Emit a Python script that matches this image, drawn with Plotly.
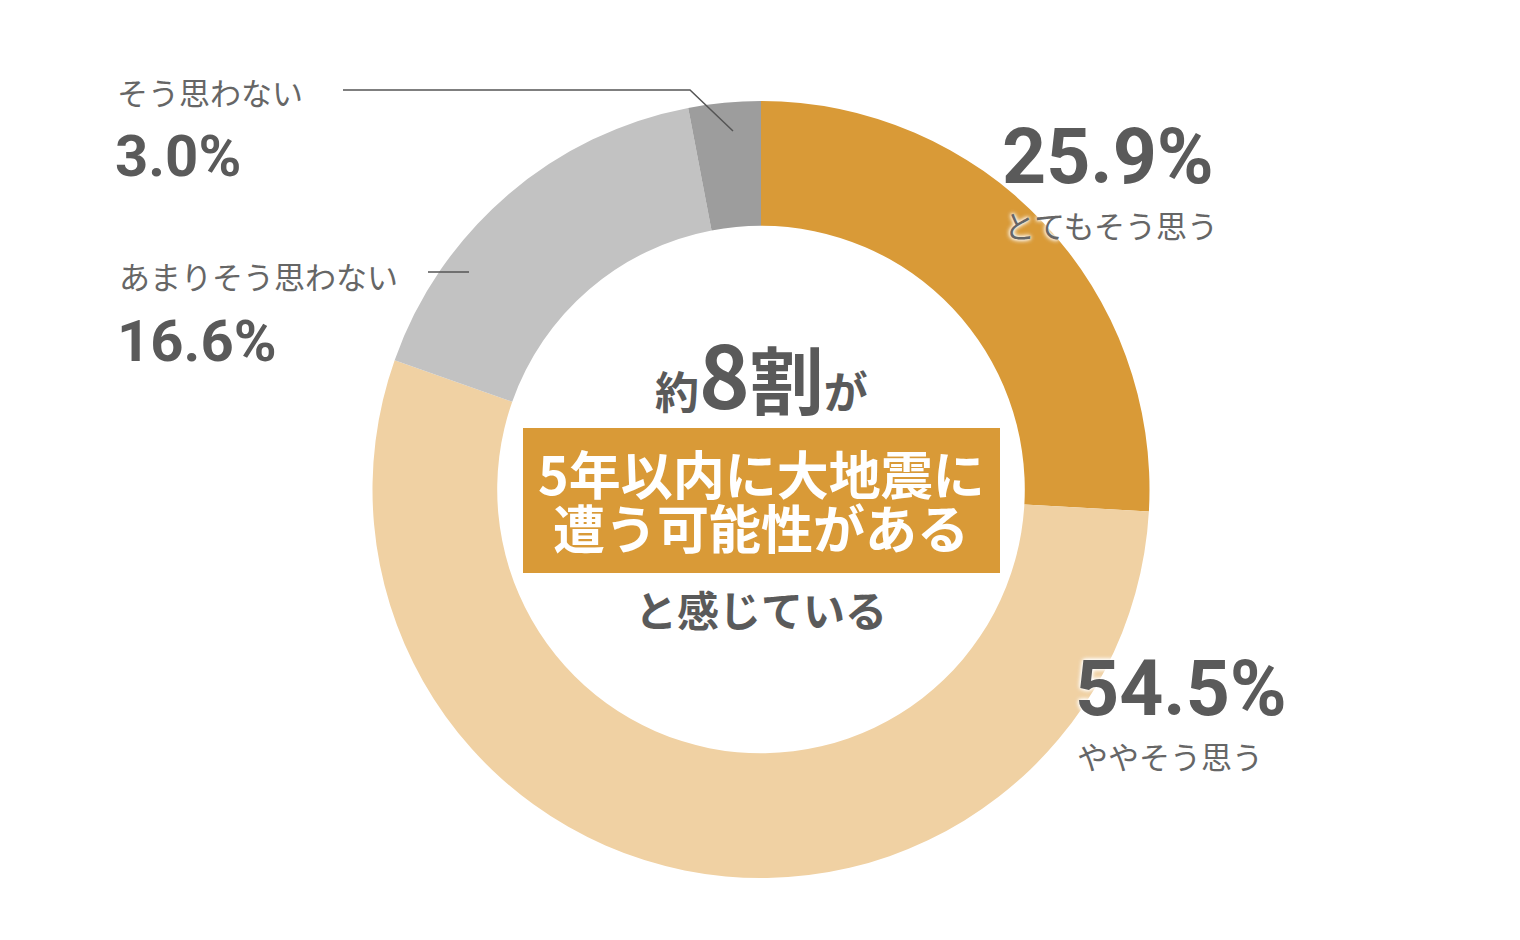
import plotly.graph_objects as go

# ---- data ----
categories = ["とてもそう思う", "ややそう思う", "あまりそう思わない", "そう思わない"]
values = [25.9, 54.5, 16.6, 3.0]
value_labels = ["25.9%", "54.5%", "16.6%", "3.0%"]
colors = ["#D99A37", "#F0D1A3", "#C2C2C2", "#9D9D9D"]

W, H = 1520, 940
ML, MR, MT, MB = 372, 370, 101, 62
PW, PH = W - ML - MR, H - MT - MB


def px(x):
    return (x - ML) / PW


def py(y):
    return 1 - (y - MT) / PH


fig = go.Figure(go.Pie(
    labels=categories, values=values, hole=0.679, sort=False,
    direction="clockwise", rotation=0, textinfo="none", hoverinfo="label+percent",
    marker=dict(colors=colors, line=dict(width=0)), showlegend=False,
))

JP = "Noto Sans CJK JP"
NUM = "Roboto"
DARK = "#5a5a5a"
LABEL = "#666666"
GLOW = "0px 0px 5px #ffffff, 0px 0px 5px #ffffff, 0px 0px 3px #ffffff"

ann = []


def add(text, x, y, size, family, color, weight="normal", xanchor="left", shadow=None):
    f = dict(size=size, family=family, color=color, weight=weight)
    if shadow:
        f["shadow"] = shadow
    ann.append(dict(text=text, x=px(x), y=py(y), xref="paper", yref="paper",
                    xanchor=xanchor, yanchor="middle", showarrow=False, font=f))


# slice labels
add(value_labels[0], 1000, 157, 77, NUM, DARK, "bold", shadow=GLOW)
add(categories[0], 1002, 224, 31, JP, LABEL, shadow=GLOW)
add(value_labels[1], 1073, 689, 77, NUM, DARK, "bold", shadow=GLOW)
add(categories[1], 1075, 755, 31, JP, LABEL, shadow=GLOW)
add(categories[3], 115, 91, 31, JP, LABEL)
add(value_labels[3], 113, 156, 58, NUM, DARK, "bold")
add(categories[2], 117, 275, 31, JP, LABEL)
add(value_labels[2], 115, 341, 58, NUM, DARK, "bold")

# center text
add('約<span style="font-size:86px">8</span><span style="font-size:74px">割</span>が',
    761, 371, 44, JP, DARK, "bold", xanchor="center")
add("5年以内に大地震に", 761, 472, 52, JP, "#ffffff", "bold", xanchor="center")
add("遭う可能性がある", 761, 526, 52, JP, "#ffffff", "bold", xanchor="center")
add("と感じている", 761, 608, 42, JP, DARK, "bold", xanchor="center")

shapes = [
    dict(type="rect", xref="paper", yref="paper", x0=px(523), x1=px(1000),
         y0=py(573), y1=py(428), fillcolor="#D99A37", line=dict(width=0), layer="below"),
    dict(type="path", xref="paper", yref="paper",
         path=f"M {px(343)},{py(90)} L {px(690)},{py(90)} L {px(733)},{py(131)}",
         line=dict(color="#555555", width=1.5)),
    dict(type="line", xref="paper", yref="paper", x0=px(428), x1=px(469),
         y0=py(272), y1=py(272), line=dict(color="#555555", width=1.5)),
]

fig.update_layout(
    width=W, height=H, margin=dict(l=ML, r=MR, t=MT, b=MB),
    paper_bgcolor="white", plot_bgcolor="white",
    annotations=ann, shapes=shapes,
)

fig.write_html("out.html")
